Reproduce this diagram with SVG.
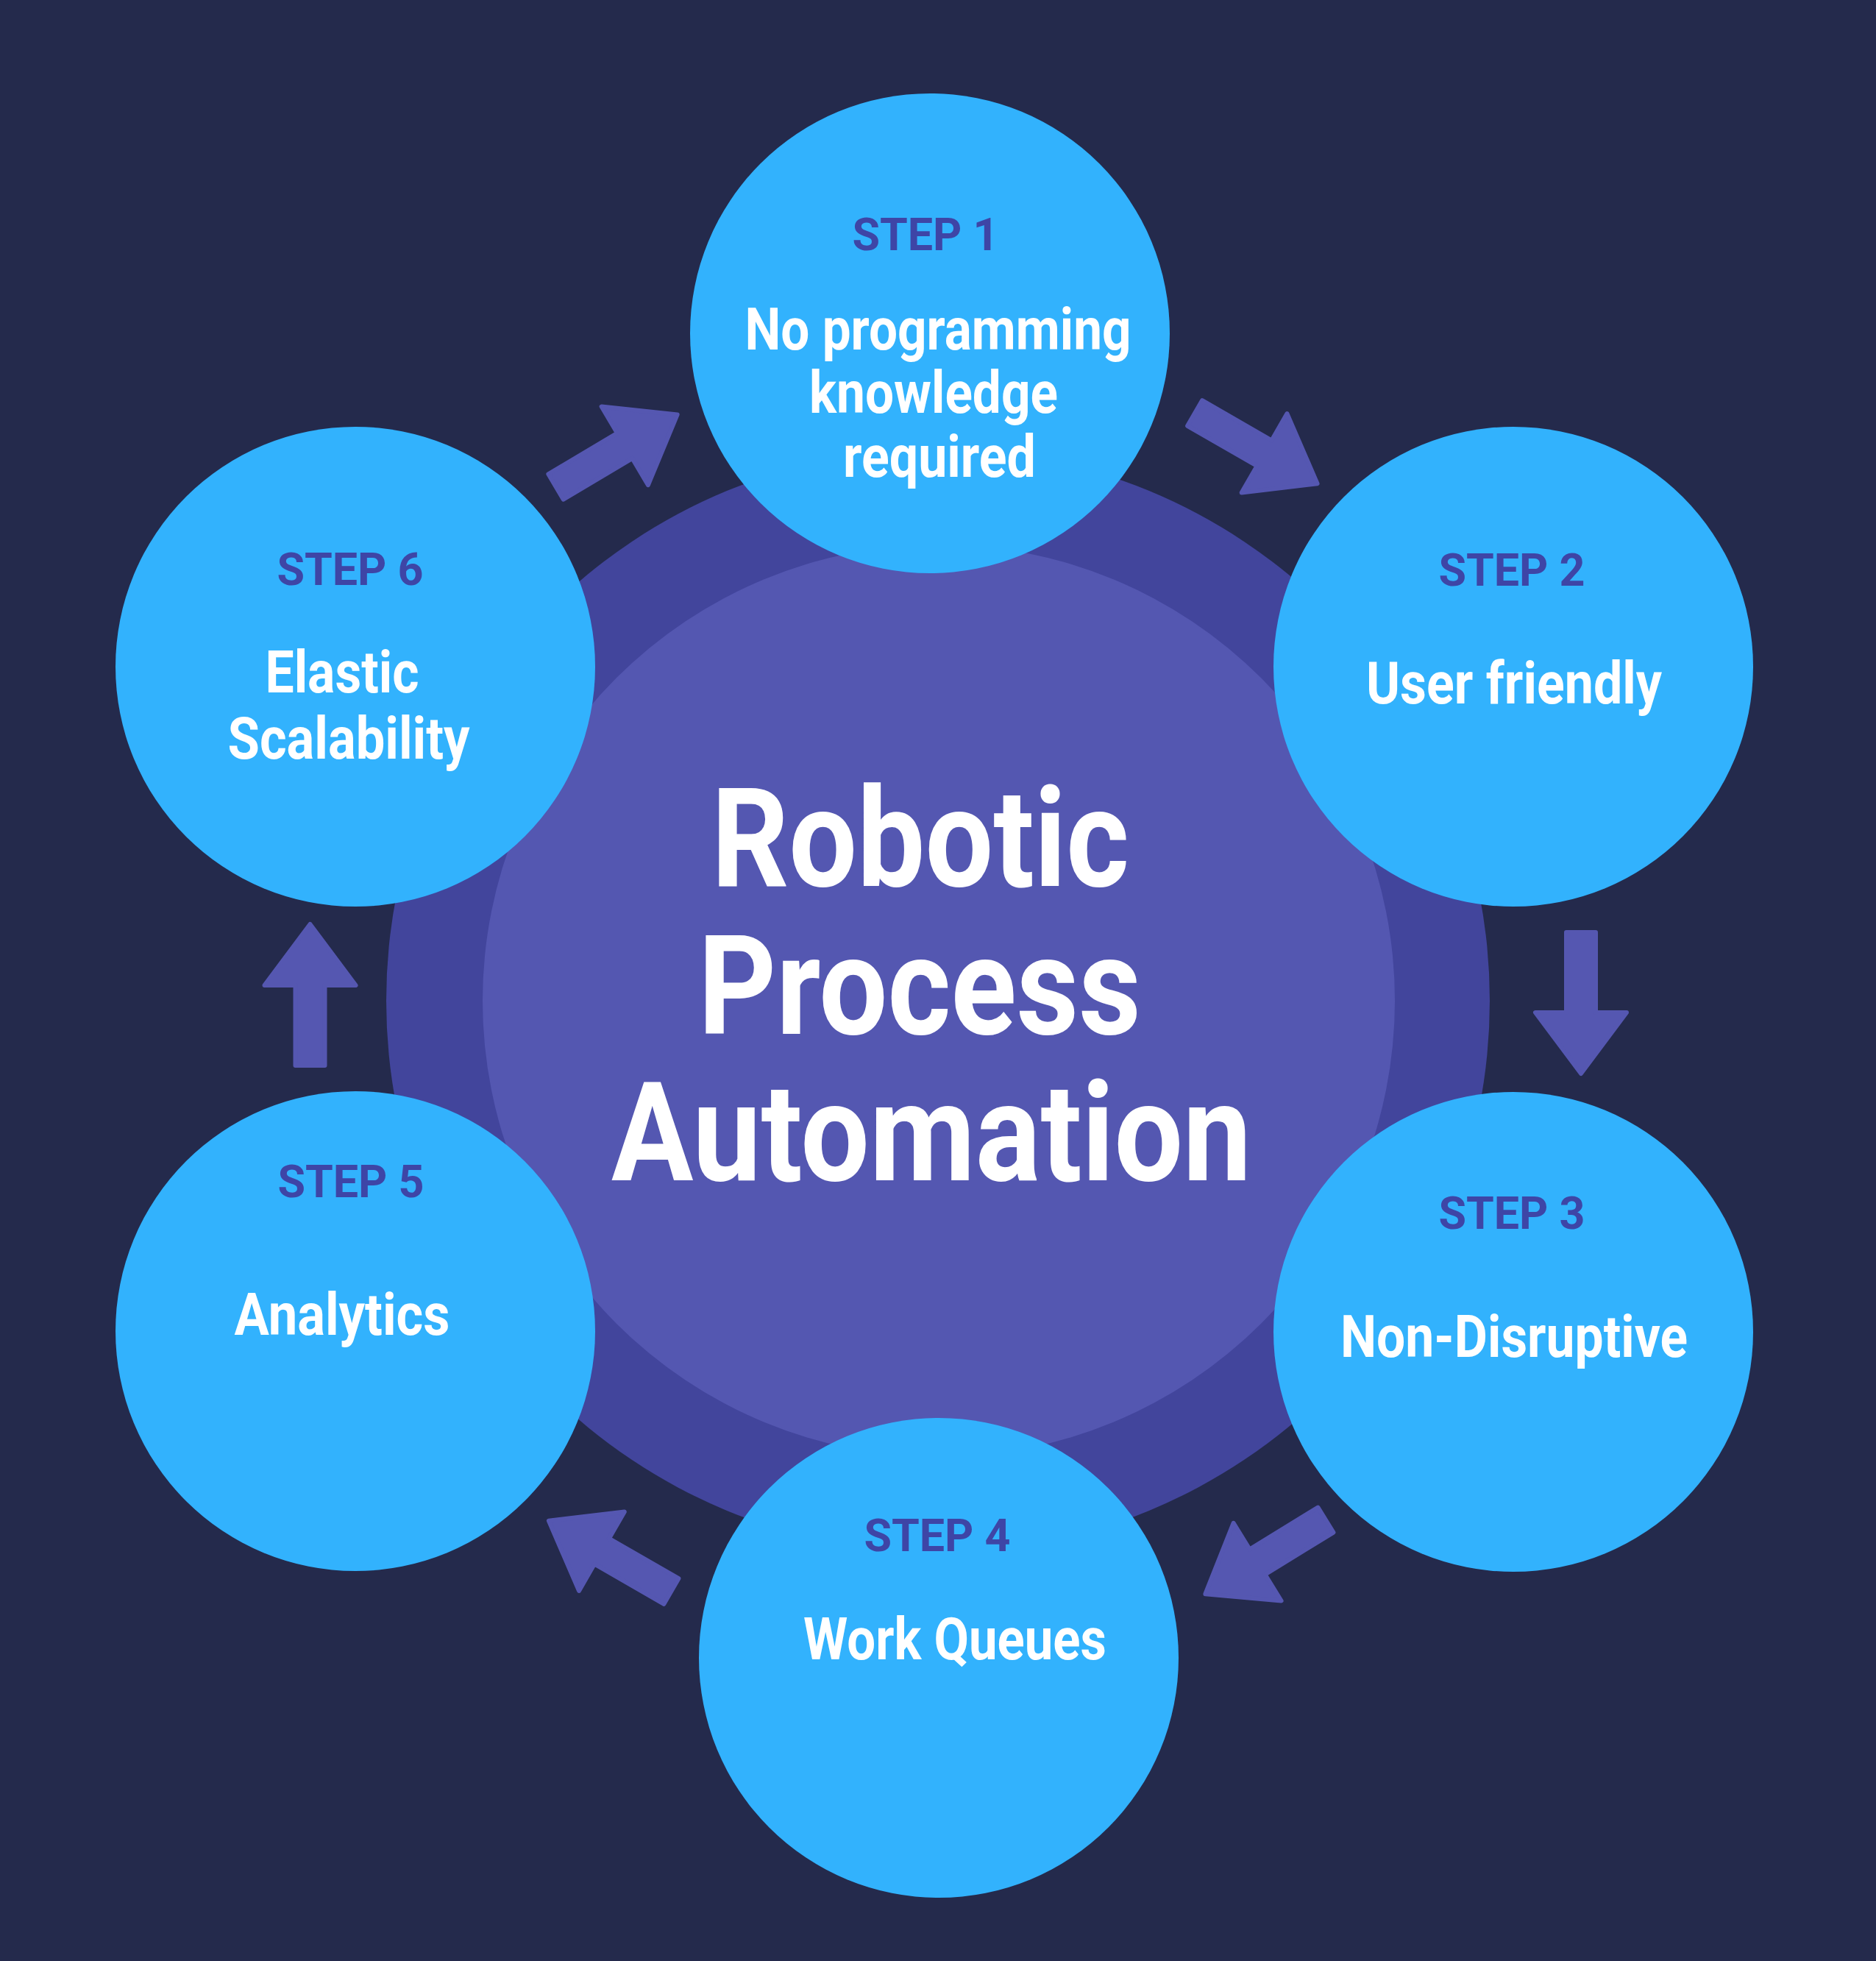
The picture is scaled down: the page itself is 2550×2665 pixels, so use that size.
<svg xmlns="http://www.w3.org/2000/svg" xmlns:xlink="http://www.w3.org/1999/xlink" width="2550" height="2665" viewBox="0 0 2550 2665">
<defs>
<style>
.step{fill:#32b2fd}
.lbl{font-family:Roboto,"Liberation Sans",sans-serif;font-weight:700;font-size:61px;fill:#3e45a6;text-anchor:middle}
.txt{font-family:Roboto,"Liberation Sans",sans-serif;font-weight:700;font-size:80px;fill:#ffffff;text-anchor:middle}
.title{font-family:Roboto,"Liberation Sans",sans-serif;font-weight:700;font-size:188px;fill:#ffffff;text-anchor:middle}
.arr{fill:#5557b1;stroke:#5557b1;stroke-width:6;stroke-linejoin:round}
</style>
<path id="arrow" d="M3,-20 L112,-20 L112,-62 L195,0 L112,62 L112,20 L3,20 Z"/>
</defs>
<rect x="0" y="0" width="2550" height="2665" fill="#242a4c"/>
<g id="hub">
<circle cx="1275" cy="1360" r="750" fill="#42459c"/>
<circle cx="1276" cy="1360" r="620" fill="#5457b1"/>
<text class="title" x="1251" y="1204" textLength="568" lengthAdjust="spacingAndGlyphs">Robotic</text>
<text class="title" x="1250" y="1405" textLength="602" lengthAdjust="spacingAndGlyphs">Process</text>
<text class="title" x="1266" y="1604" textLength="870" lengthAdjust="spacingAndGlyphs">Automation</text>
</g>
<g id="connectors">
<use xlink:href="#arrow" class="arr" transform="translate(753,663) rotate(-30.7)"/>
<use xlink:href="#arrow" class="arr" transform="translate(1621.5,560) rotate(29.9)"/>
<use xlink:href="#arrow" class="arr" transform="translate(2149,1264) rotate(90)"/>
<use xlink:href="#arrow" class="arr" transform="translate(1804.5,2064) rotate(148.4)"/>
<use xlink:href="#arrow" class="arr" transform="translate(915,2164) rotate(209.9)"/>
<use xlink:href="#arrow" class="arr" transform="translate(421.5,1451) rotate(-90)"/>
</g>
<g id="step1">
<circle class="step" cx="1264" cy="453" r="326"/>
<text class="lbl" x="1258" y="340">STEP 1</text>
<text class="txt" x="1275" y="475" textLength="525" lengthAdjust="spacingAndGlyphs">No programming</text>
<text class="txt" x="1269" y="561" textLength="338" lengthAdjust="spacingAndGlyphs">knowledge</text>
<text class="txt" x="1277" y="648" textLength="262" lengthAdjust="spacingAndGlyphs">required</text>
</g>
<g id="step2">
<circle class="step" cx="2057" cy="906" r="326"/>
<text class="lbl" x="2055" y="796">STEP 2</text>
<text class="txt" x="2058" y="956" textLength="402" lengthAdjust="spacingAndGlyphs">User friendly</text>
</g>
<g id="step3">
<circle class="step" cx="2057" cy="1810" r="326"/>
<text class="lbl" x="2055" y="1670">STEP 3</text>
<text class="txt" x="2058" y="1844" textLength="472" lengthAdjust="spacingAndGlyphs">Non-Disruptive</text>
</g>
<g id="step4">
<circle class="step" cx="1276" cy="2253" r="326"/>
<text class="lbl" x="1274" y="2108">STEP 4</text>
<text class="txt" x="1298" y="2255" textLength="412" lengthAdjust="spacingAndGlyphs">Work Queues</text>
</g>
<g id="step5">
<circle class="step" cx="483" cy="1809" r="326"/>
<text class="lbl" x="477" y="1627">STEP 5</text>
<text class="txt" x="465" y="1814" textLength="293" lengthAdjust="spacingAndGlyphs">Analytics</text>
</g>
<g id="step6">
<circle class="step" cx="483" cy="906" r="326"/>
<text class="lbl" x="476" y="795">STEP 6</text>
<text class="txt" x="465" y="941" textLength="209" lengthAdjust="spacingAndGlyphs">Elastic</text>
<text class="txt" x="474" y="1031" textLength="329" lengthAdjust="spacingAndGlyphs">Scalability</text>
</g>
</svg>
